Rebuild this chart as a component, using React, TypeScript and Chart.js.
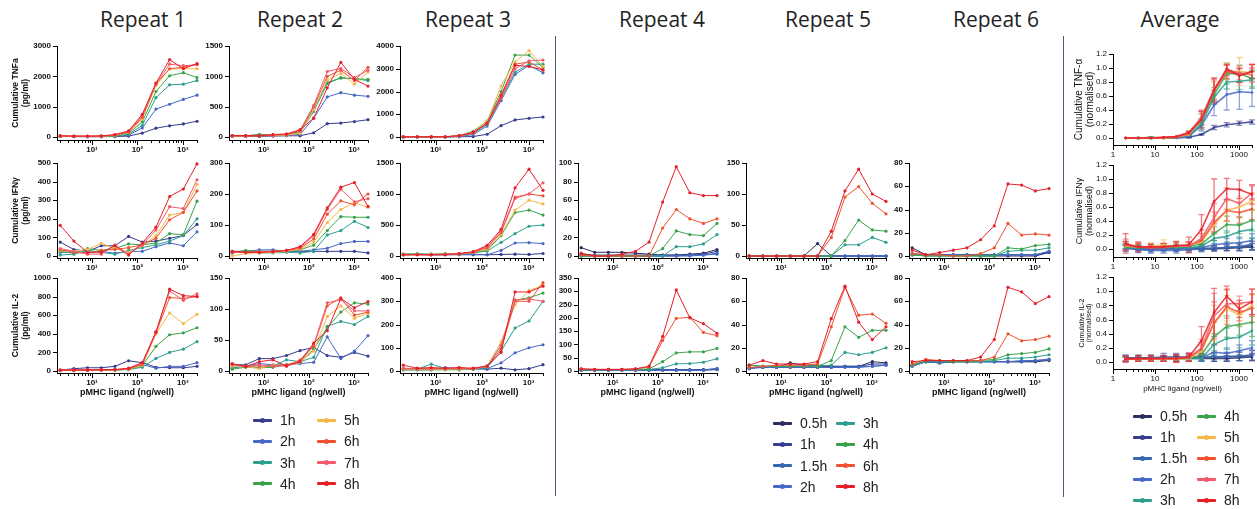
import React, { useEffect, useRef } from 'react';
import { Chart, registerables } from 'chart.js';
Chart.register(...registerables);
Chart.defaults.font.family = "'Liberation Sans', Arial, sans-serif";

// ---------- data ----------
const DOSES = [2, 4, 8, 16, 32, 64, 128, 256, 512, 1024, 2048];
const SERIES_A = ['1h', '2h', '3h', '4h', '5h', '6h', '7h', '8h'];
const SERIES_B = ['0.5h', '1h', '1.5h', '2h', '3h', '4h', '6h', '8h'];
const SERIES_AVG = ['0.5h', '1h', '1.5h', '2h', '3h', '4h', '5h', '6h', '7h', '8h'];

const R1_TNF = [
  [20, 15, 10, 10, 15, 30, 130, 290, 370, 430, 520],
  [20, 15, 10, 15, 20, 60, 300, 920, 1080, 1240, 1380],
  [25, 20, 15, 20, 30, 90, 380, 1300, 1720, 1740, 1860],
  [25, 20, 20, 20, 40, 120, 500, 1500, 2020, 2120, 1960],
  [30, 25, 20, 25, 50, 150, 600, 1700, 2250, 2250, 2250],
  [30, 25, 25, 30, 60, 160, 650, 1750, 2250, 2300, 2400],
  [35, 30, 25, 30, 70, 180, 700, 1750, 2400, 2350, 2380],
  [40, 30, 30, 35, 80, 200, 750, 1780, 2550, 2250, 2420],
];
const R1_IFN = [
  [75, 35, 25, 55, 55, 105, 75, 80, 95, 110, 170],
  [20, 20, 20, 25, 15, 25, 25, 50, 70, 55, 130],
  [5, 10, 30, 20, 10, 30, 45, 60, 80, 110, 200],
  [25, 15, 40, 30, 40, 65, 60, 70, 120, 115, 295],
  [30, 25, 35, 68, 40, 20, 55, 110, 220, 235, 385],
  [35, 20, 15, 30, 35, 45, 60, 95, 195, 235, 350],
  [40, 25, 10, 10, 60, 10, 60, 140, 265, 255, 410],
  [165, 80, 20, 20, 55, 5, 70, 155, 320, 360, 495],
];
const R1_IL2 = [
  [10, 25, 35, 35, 50, 110, 90, 40, 35, 35, 50],
  [5, 10, 10, 10, 15, 20, 70, 30, 50, 50, 90],
  [5, 5, 8, 8, 10, 15, 40, 135, 200, 235, 315],
  [5, 5, 8, 8, 10, 18, 55, 265, 390, 410, 465],
  [8, 8, 10, 10, 12, 20, 60, 400, 625, 510, 610],
  [8, 8, 10, 10, 12, 22, 70, 410, 790, 780, 800],
  [10, 10, 12, 12, 15, 25, 80, 420, 860, 760, 830],
  [10, 10, 12, 15, 15, 30, 90, 420, 880, 810, 800],
];
const R2_TNF = [
  [10, 10, 10, 15, 20, 20, 70, 220, 230, 255, 285],
  [15, 15, 20, 25, 30, 40, 310, 660, 730, 690, 670],
  [20, 20, 30, 30, 35, 70, 420, 880, 980, 960, 930],
  [20, 20, 45, 30, 40, 90, 480, 900, 970, 960, 950],
  [15, 20, 20, 25, 30, 60, 450, 940, 1050, 870, 1070],
  [15, 15, 20, 30, 40, 100, 500, 1000, 1100, 930, 1150],
  [20, 20, 25, 35, 45, 110, 520, 1080, 1130, 980, 1100],
  [25, 25, 20, 40, 50, 120, 310, 810, 1230, 950, 840],
];
const R2_IFN = [
  [15, 15, 15, 15, 15, 15, 15, 15, 15, 15, 10],
  [10, 15, 20, 20, 15, 15, 20, 25, 40, 47, 47],
  [10, 15, 10, 10, 12, 10, 15, 68, 82, 112, 92],
  [12, 18, 15, 15, 15, 20, 35, 82, 127, 125, 125],
  [0, 8, 10, 12, 15, 22, 45, 108, 150, 172, 157],
  [12, 12, 12, 15, 18, 25, 55, 135, 178, 165, 200],
  [14, 12, 14, 15, 18, 28, 65, 150, 215, 175, 185],
  [15, 12, 12, 14, 18, 30, 70, 155, 222, 237, 160],
];
const R2_IL2 = [
  [10, 10, 20, 20, 25, 33, 38, 25, 22, 30, 24],
  [5, 8, 12, 10, 10, 12, 14, 55, 20, 32, 57],
  [5, 8, 5, 8, 18, 15, 22, 72, 80, 75, 88],
  [3, 6, 5, 6, 10, 14, 35, 70, 95, 110, 108],
  [8, 7, 4, 10, 8, 14, 32, 88, 105, 85, 93],
  [10, 8, 8, 8, 10, 16, 40, 105, 118, 90, 95],
  [11, 7, 10, 8, 8, 18, 42, 110, 115, 97, 97],
  [12, 7, 15, 18, 8, 15, 45, 65, 117, 102, 112],
];
const R3_TNF = [
  [0, 0, 0, 0, 10, 20, 120, 500, 750, 820, 880],
  [0, 0, 0, 0, 30, 100, 480, 1600, 2750, 3150, 2820],
  [0, 0, 0, 0, 40, 150, 550, 1700, 2850, 3200, 3200],
  [10, 10, 10, 10, 60, 250, 700, 2000, 3600, 3600, 3050],
  [10, 10, 10, 10, 60, 220, 680, 2250, 3300, 3800, 3100],
  [10, 10, 10, 10, 50, 180, 620, 1850, 3200, 3300, 2950],
  [10, 10, 10, 10, 50, 170, 600, 1700, 3000, 3350, 3380],
  [10, 10, 10, 10, 60, 200, 600, 1800, 3150, 3100, 2950],
];
const R3_IFN = [
  [20, 25, 20, 20, 20, 20, 20, 25, 30, 25, 40],
  [20, 25, 20, 20, 25, 30, 20, 90, 210, 215, 200],
  [30, 30, 25, 25, 30, 50, 80, 220, 360, 480, 500],
  [30, 35, 30, 40, 30, 60, 90, 330, 700, 740, 660],
  [25, 25, 25, 30, 35, 60, 110, 350, 740, 900, 840],
  [20, 20, 20, 25, 35, 60, 130, 380, 930, 1000, 970],
  [20, 20, 20, 25, 35, 65, 150, 400, 950, 1000, 1180],
  [20, 20, 20, 20, 40, 70, 170, 430, 1100, 1400, 1060],
];
const R3_IL2 = [
  [10, 8, 8, 10, 8, 10, 8, 12, 5, 10, 27],
  [5, 5, 5, 15, 10, 8, 10, 35, 78, 100, 113],
  [8, 8, 30, 10, 8, 10, 15, 85, 185, 215, 300],
  [5, 5, 5, 5, 5, 8, 18, 110, 305, 315, 335],
  [8, 8, 8, 8, 8, 10, 20, 125, 285, 345, 370],
  [10, 10, 10, 10, 10, 10, 20, 95, 300, 300, 380],
  [12, 10, 10, 10, 12, 10, 20, 110, 305, 310, 300],
  [25, 12, 15, 12, 15, 12, 22, 80, 340, 340, 365],
];
const R4_IFN = [
  [9, 4, 4, 4, 3, 2, 1, 1, 2, 3, 7],
  [2, 1, 1, 1, 1, 1, 1, 1, 1, 2, 5],
  [1, 0, 0, 0, 0, 0, 0, 0, 1, 1, 3],
  [0, 0, 0, 0, 0, 0, 0, 0, 0, 1, 2],
  [0, 0, 0, 0, 0, 0, 0, 10, 10, 13, 23],
  [0, 0, 0, 0, 0, 0, 8, 27, 23, 22, 35],
  [1, 0, 0, 0, 0, 0, 30, 50, 40, 35, 40],
  [3, 0, 0, 2, 5, 15, 58, 96, 68, 65, 65],
];
const R4_IL2 = [
  [5, 5, 5, 5, 5, 5, 5, 5, 5, 5, 8],
  [4, 4, 4, 4, 4, 4, 4, 4, 4, 4, 6],
  [3, 3, 3, 3, 3, 3, 3, 3, 3, 3, 5],
  [2, 3, 3, 3, 3, 3, 3, 3, 3, 3, 10],
  [5, 5, 5, 5, 5, 6, 12, 27, 28, 33, 46],
  [5, 5, 5, 5, 6, 8, 35, 68, 72, 72, 85],
  [8, 6, 6, 6, 8, 15, 115, 198, 202, 145, 133],
  [8, 6, 6, 6, 8, 18, 130, 305, 200, 178, 142],
];
const R5_IFN = [
  [0, 0, 0, 0, 0, 20, 0, 0, 0, 0, 0],
  [0, 0, 0, 0, 0, 0, 0, 0, 0, 0, 0],
  [0, 0, 0, 0, 0, 0, 0, 0, 0, 0, 0],
  [0, 0, 0, 0, 0, 0, 0, 0, 0, 0, 0],
  [0, 0, 0, 0, 0, 0, 0, 18, 18, 30, 22],
  [0, 0, 0, 0, 0, 0, 0, 25, 58, 42, 40],
  [0, 0, 0, 0, 0, 0, 30, 95, 112, 85, 68],
  [0, 0, 0, 0, 0, 0, 40, 105, 140, 100, 88],
];
const R5_IL2 = [
  [2, 4, 3, 7, 5, 5, 4, 4, 4, 8, 7],
  [3, 3, 3, 4, 4, 4, 4, 4, 4, 6, 6],
  [3, 3, 3, 3, 3, 3, 3, 4, 4, 4, 5],
  [2, 3, 3, 3, 3, 3, 3, 3, 3, 4, 5],
  [5, 4, 4, 4, 4, 4, 5, 16, 14, 16, 20],
  [5, 4, 4, 4, 4, 4, 9, 38, 29, 35, 35],
  [3, 4, 5, 5, 5, 6, 38, 72, 48, 49, 41],
  [5, 9, 6, 6, 6, 8, 45, 73, 42, 27, 38],
];
const R6_IFN = [
  [7, 1, 1, 1, 1, 0, 0, 0, 0, 0, 3],
  [2, 1, 1, 1, 1, 1, 1, 1, 1, 1, 3],
  [1, 1, 1, 1, 1, 1, 1, 1, 1, 1, 4],
  [1, 1, 1, 1, 1, 1, 1, 1, 1, 1, 4],
  [1, 0, 0, 0, 0, 0, 0, 4, 5, 5, 7],
  [1, 0, 0, 0, 0, 0, 0, 7, 6, 9, 10],
  [2, 1, 1, 0, 0, 2, 7, 28, 18, 19, 18],
  [5, 1, 3, 5, 7, 14, 26, 62, 61, 56, 58],
];
const R6_IL2 = [
  [5, 8, 7, 8, 8, 8, 8, 8, 8, 8, 9],
  [5, 8, 7, 8, 8, 8, 8, 8, 8, 8, 10],
  [4, 8, 7, 8, 8, 8, 8, 8, 8, 9, 10],
  [4, 8, 8, 8, 8, 8, 8, 8, 9, 9, 10],
  [5, 8, 8, 8, 8, 8, 9, 11, 11, 12, 14],
  [5, 9, 9, 8, 8, 9, 10, 14, 15, 16, 19],
  [6, 10, 9, 9, 9, 9, 12, 32, 26, 27, 30],
  [8, 9, 9, 9, 9, 12, 27, 72, 68, 58, 64],
];
const AVG_TNF = [
  [0, 0, 0, 0, 0, 0.01, 0.05, 0.15, 0.19, 0.21, 0.23],
  [0, 0, 0, 0, 0, 0.02, 0.18, 0.47, 0.62, 0.66, 0.65],
  [0, 0, 0, 0, 0.01, 0.04, 0.2, 0.58, 0.8, 0.81, 0.83],
  [0, 0, 0.01, 0, 0.01, 0.05, 0.25, 0.62, 0.92, 0.92, 0.85],
  [0, 0, 0, 0, 0.01, 0.05, 0.27, 0.68, 0.95, 0.95, 0.93],
  [0, 0, 0, 0, 0.01, 0.06, 0.28, 0.68, 0.95, 0.9, 0.95],
  [0, 0, 0, 0.01, 0.02, 0.07, 0.3, 0.7, 0.97, 0.93, 0.9],
  [0, 0, 0, 0.01, 0.02, 0.08, 0.26, 0.68, 0.99, 0.89, 0.95],
];
const AVG_TNF_ERR = [
  [0, 0, 0, 0, 0, 0.01, 0.01, 0.03, 0.03, 0.03, 0.03],
  [0, 0, 0, 0, 0, 0.01, 0.08, 0.15, 0.22, 0.25, 0.2],
  [0, 0.01, 0.01, 0, 0, 0.02, 0.08, 0.1, 0.1, 0.12, 0.12],
  [0, 0, 0.01, 0, 0, 0.02, 0.1, 0.1, 0.15, 0.12, 0.12],
  [0, 0, 0, 0, 0, 0.02, 0.08, 0.12, 0.12, 0.2, 0.12],
  [0, 0, 0, 0, 0, 0.02, 0.1, 0.15, 0.1, 0.1, 0.1],
  [0, 0, 0, 0, 0, 0.02, 0.1, 0.15, 0.08, 0.1, 0.1],
  [0, 0, 0, 0, 0, 0.02, 0.12, 0.18, 0.05, 0.1, 0.1],
];
const AVG_IFN = [
  [0.06, 0.02, 0.01, 0.01, 0.01, 0.01, 0.0, 0.0, 0.01, 0.02, 0.03],
  [0.03, 0.01, 0.0, 0.01, 0.0, 0.01, 0.01, 0.01, 0.02, 0.03, 0.05],
  [0.01, -0.01, -0.02, -0.02, -0.02, -0.01, 0.0, 0.01, 0.02, 0.03, 0.07],
  [0.01, 0.0, -0.01, 0.0, 0.0, 0.01, 0.02, 0.06, 0.08, 0.09, 0.12],
  [0.02, 0.02, 0.02, 0.02, 0.02, 0.02, 0.04, 0.15, 0.18, 0.25, 0.28],
  [0.03, 0.02, 0.03, 0.03, 0.03, 0.04, 0.07, 0.22, 0.35, 0.34, 0.41],
  [0.04, 0.03, 0.04, 0.06, 0.04, 0.05, 0.1, 0.35, 0.55, 0.6, 0.68],
  [0.05, 0.03, 0.02, 0.03, 0.04, 0.05, 0.12, 0.38, 0.55, 0.52, 0.57],
  [0.06, 0.03, 0.02, 0.02, 0.05, 0.04, 0.15, 0.45, 0.72, 0.65, 0.8],
  [0.08, 0.03, 0.03, 0.03, 0.05, 0.06, 0.28, 0.68, 0.86, 0.85, 0.78],
];
const AVG_IFN_ERR = [
  [0.05, 0.03, 0.03, 0.03, 0.03, 0.03, 0.03, 0.03, 0.03, 0.04, 0.05],
  [0.04, 0.03, 0.03, 0.03, 0.03, 0.03, 0.03, 0.03, 0.04, 0.05, 0.06],
  [0.04, 0.04, 0.04, 0.04, 0.04, 0.04, 0.04, 0.04, 0.05, 0.06, 0.08],
  [0.04, 0.04, 0.04, 0.04, 0.04, 0.04, 0.04, 0.06, 0.07, 0.08, 0.1],
  [0.04, 0.04, 0.04, 0.04, 0.04, 0.04, 0.04, 0.07, 0.08, 0.1, 0.12],
  [0.05, 0.04, 0.04, 0.04, 0.04, 0.05, 0.05, 0.1, 0.12, 0.12, 0.15],
  [0.05, 0.05, 0.05, 0.07, 0.05, 0.05, 0.08, 0.12, 0.15, 0.15, 0.12],
  [0.06, 0.05, 0.04, 0.05, 0.05, 0.05, 0.1, 0.15, 0.15, 0.15, 0.15],
  [0.08, 0.05, 0.04, 0.04, 0.05, 0.06, 0.12, 0.2, 0.15, 0.2, 0.1],
  [0.14, 0.07, 0.04, 0.05, 0.06, 0.11, 0.21, 0.32, 0.15, 0.13, 0.14],
];
const AVG_IL2 = [
  [0.05, 0.05, 0.05, 0.05, 0.05, 0.05, 0.05, 0.05, 0.05, 0.06, 0.07],
  [0.06, 0.06, 0.06, 0.07, 0.07, 0.07, 0.07, 0.07, 0.07, 0.08, 0.09],
  [0.05, 0.05, 0.05, 0.05, 0.05, 0.06, 0.06, 0.07, 0.08, 0.08, 0.1],
  [0.04, 0.05, 0.05, 0.05, 0.05, 0.06, 0.06, 0.14, 0.12, 0.16, 0.2],
  [0.04, 0.04, 0.05, 0.04, 0.05, 0.05, 0.05, 0.25, 0.33, 0.35, 0.44],
  [0.04, 0.04, 0.04, 0.04, 0.04, 0.05, 0.1, 0.36, 0.5, 0.53, 0.56],
  [0.04, 0.04, 0.04, 0.04, 0.04, 0.05, 0.15, 0.55, 0.76, 0.66, 0.8],
  [0.04, 0.04, 0.04, 0.05, 0.05, 0.06, 0.18, 0.55, 0.78, 0.7, 0.76],
  [0.05, 0.05, 0.05, 0.05, 0.05, 0.06, 0.2, 0.65, 0.82, 0.83, 0.85],
  [0.04, 0.05, 0.05, 0.05, 0.05, 0.07, 0.3, 0.7, 0.93, 0.75, 0.85],
];
const AVG_IL2_ERR = [
  [0.04, 0.04, 0.04, 0.04, 0.04, 0.04, 0.04, 0.04, 0.04, 0.04, 0.05],
  [0.04, 0.04, 0.04, 0.05, 0.05, 0.05, 0.05, 0.06, 0.06, 0.06, 0.07],
  [0.04, 0.04, 0.04, 0.04, 0.05, 0.05, 0.05, 0.06, 0.06, 0.06, 0.07],
  [0.04, 0.04, 0.04, 0.04, 0.05, 0.05, 0.05, 0.1, 0.08, 0.08, 0.1],
  [0.03, 0.03, 0.03, 0.03, 0.04, 0.04, 0.04, 0.15, 0.15, 0.15, 0.2],
  [0.03, 0.03, 0.03, 0.03, 0.04, 0.04, 0.06, 0.2, 0.15, 0.15, 0.2],
  [0.03, 0.03, 0.03, 0.03, 0.04, 0.04, 0.08, 0.25, 0.18, 0.15, 0.15],
  [0.03, 0.03, 0.03, 0.04, 0.04, 0.05, 0.1, 0.3, 0.25, 0.12, 0.2],
  [0.04, 0.04, 0.04, 0.04, 0.05, 0.05, 0.12, 0.32, 0.2, 0.1, 0.18],
  [0.04, 0.04, 0.04, 0.04, 0.05, 0.06, 0.2, 0.34, 0.14, 0.12, 0.18],
];

const TITLES = ['Repeat 1', 'Repeat 2', 'Repeat 3', 'Repeat 4', 'Repeat 5', 'Repeat 6', 'Average'];
const X_TITLE = 'pMHC ligand (ng/well)';

// ---------- styles ----------
const COLORS: Record<string, string> = {
  '0.5h': '#2c2e5e', '1h': '#363c8e', '1.5h': '#3468b0', '2h': '#4768c6', '3h': '#2c9f8f',
  '4h': '#3aa34a', '5h': '#f7b64b', '6h': '#ef522e', '7h': '#f25a6c', '8h': '#e5202a',
};
const SUP: Record<number, string> = { 10: '10\u00b9', 100: '10\u00b2', 1000: '10\u00b3' };

const REP_ROWS = {
  tnf: { yT: 46, yZ: 137, yA: 140 },
  ifn: { yT: 163, yZ: 256, yA: 258 },
  il2: { yT: 278, yZ: 371, yA: 373 },
};
const AVG_ROWS = {
  tnf: { yT: 54, yZ: 138, yA: 145 },
  ifn: { yT: 165, yZ: 249, yA: 257 },
  il2: { yT: 277, yZ: 362, yA: 369 },
};
const COLS = [
  { x0: 57, x1: 197, yw: 57, cx: 143 },
  { x0: 229, x1: 368, yw: 30, cx: 300 },
  { x0: 400, x1: 543, yw: 30, cx: 468 },
  { x0: 578, x1: 717, yw: 25, cx: 662 },
  { x0: 746, x1: 886, yw: 25, cx: 828 },
  { x0: 909, x1: 1049, yw: 25, cx: 996 },
  { x0: 1113, x1: 1252, yw: 50, cx: 1180 },
];

type PanelCfg = {
  col: number; row: { yT: number; yZ: number; yA: number };
  data: number[][]; series: string[]; yMax: number; yStep: number;
  errors?: number[][]; yTitle?: string[]; yTitleSize?: number; yTitlePad?: number; xTitle?: boolean; avg?: boolean;
};

const PANELS: PanelCfg[] = [
  { col: 0, row: REP_ROWS.tnf, data: R1_TNF, series: SERIES_A, yMax: 3000, yStep: 1000, yTitle: ['Cumulative TNFa', '(pg/ml)'] },
  { col: 0, row: REP_ROWS.ifn, data: R1_IFN, series: SERIES_A, yMax: 500, yStep: 100, yTitle: ['Cumulative IFN\u03b3', '(pg/ml)'] },
  { col: 0, row: REP_ROWS.il2, data: R1_IL2, series: SERIES_A, yMax: 1000, yStep: 200, yTitle: ['Cumulative IL-2', '(pg/ml)'], xTitle: true },
  { col: 1, row: REP_ROWS.tnf, data: R2_TNF, series: SERIES_A, yMax: 1500, yStep: 500 },
  { col: 1, row: REP_ROWS.ifn, data: R2_IFN, series: SERIES_A, yMax: 300, yStep: 100 },
  { col: 1, row: REP_ROWS.il2, data: R2_IL2, series: SERIES_A, yMax: 150, yStep: 50, xTitle: true },
  { col: 2, row: REP_ROWS.tnf, data: R3_TNF, series: SERIES_A, yMax: 4000, yStep: 1000 },
  { col: 2, row: REP_ROWS.ifn, data: R3_IFN, series: SERIES_A, yMax: 1500, yStep: 500 },
  { col: 2, row: REP_ROWS.il2, data: R3_IL2, series: SERIES_A, yMax: 400, yStep: 100, xTitle: true },
  { col: 3, row: REP_ROWS.ifn, data: R4_IFN, series: SERIES_B, yMax: 100, yStep: 20 },
  { col: 3, row: REP_ROWS.il2, data: R4_IL2, series: SERIES_B, yMax: 350, yStep: 50, xTitle: true },
  { col: 4, row: REP_ROWS.ifn, data: R5_IFN, series: SERIES_B, yMax: 150, yStep: 50 },
  { col: 4, row: REP_ROWS.il2, data: R5_IL2, series: SERIES_B, yMax: 80, yStep: 20, xTitle: true },
  { col: 5, row: REP_ROWS.ifn, data: R6_IFN, series: SERIES_B, yMax: 80, yStep: 20 },
  { col: 5, row: REP_ROWS.il2, data: R6_IL2, series: SERIES_B, yMax: 80, yStep: 20, xTitle: true },
  { col: 6, row: AVG_ROWS.tnf, data: AVG_TNF, errors: AVG_TNF_ERR, series: SERIES_A, yMax: 1.2, yStep: 0.2, avg: true, yTitle: ['Cumulative TNF-\u03b1', '(normalised)'], yTitleSize: 10, yTitlePad: 11 },
  { col: 6, row: AVG_ROWS.ifn, data: AVG_IFN, errors: AVG_IFN_ERR, series: SERIES_AVG, yMax: 1.2, yStep: 0.2, avg: true, yTitle: ['Cumulative IFN\u03b3', '(normalised)'], yTitleSize: 9, yTitlePad: 12 },
  { col: 6, row: AVG_ROWS.il2, data: AVG_IL2, errors: AVG_IL2_ERR, series: SERIES_AVG, yMax: 1.2, yStep: 0.2, avg: true, yTitle: ['Cumulative IL-2', '(normalised)'], yTitleSize: 7, yTitlePad: 15, xTitle: true },
];

const LEGENDS = [
  { cols: [['1h', '2h', '3h', '4h'], ['5h', '6h', '7h', '8h']], lx: [253, 317], y0: 420, dy: 21.3 },
  { cols: [['0.5h', '1h', '1.5h', '2h'], ['3h', '4h', '6h', '8h']], lx: [773, 836], y0: 423, dy: 21.3 },
  { cols: [['0.5h', '1h', '1.5h', '2h', '3h'], ['4h', '5h', '6h', '7h', '8h']], lx: [1133, 1197], y0: 416, dy: 21 },
];

const PT = 8;
const PR = 8;

function alpha(hex: string, a: number) {
  const n = parseInt(hex.slice(1), 16);
  return `rgba(${(n >> 16) & 255},${(n >> 8) & 255},${n & 255},${a})`;
}

const axisTicks = {
  id: 'axisTicks',
  afterDraw(chart: any) {
    const { ctx, chartArea } = chart;
    const xs = chart.scales.x;
    const ys = chart.scales.y;
    ctx.save();
    ctx.strokeStyle = '#000';
    ctx.lineWidth = 1;
    ctx.beginPath();
    const lo = Math.floor(Math.log10(xs.min));
    const hi = Math.ceil(Math.log10(xs.max));
    for (let e = lo; e <= hi; e++) {
      for (let m = 1; m <= 9; m++) {
        const v = m * Math.pow(10, e);
        if (v < xs.min - 1e-9 || v > xs.max + 1e-9) continue;
        const px = Math.round(xs.getPixelForValue(v)) + 0.5;
        const len = m === 1 ? 5 : 3;
        ctx.moveTo(px, chartArea.bottom);
        ctx.lineTo(px, chartArea.bottom + len);
      }
    }
    ys.ticks.forEach((t: any) => {
      const py = Math.round(ys.getPixelForValue(t.value)) + 0.5;
      ctx.moveTo(chartArea.left - 4, py);
      ctx.lineTo(chartArea.left, py);
    });
    ctx.stroke();
    ctx.restore();
  },
};

const errorBars = {
  id: 'errorBars',
  beforeDatasetsDraw(chart: any) {
    const { ctx } = chart;
    const ys = chart.scales.y;
    ctx.save();
    chart.data.datasets.forEach((ds: any, i: number) => {
      if (!ds.errors) return;
      const meta = chart.getDatasetMeta(i);
      ctx.strokeStyle = ds.errColor;
      ctx.lineWidth = 1.3;
      ctx.beginPath();
      meta.data.forEach((pt: any, j: number) => {
        const e = ds.errors[j];
        if (!e) return;
        const v = ds.data[j].y;
        const yTop = ys.getPixelForValue(v + e);
        const yBot = ys.getPixelForValue(v - e);
        ctx.moveTo(pt.x, yTop); ctx.lineTo(pt.x, yBot);
        ctx.moveTo(pt.x - 3, yTop); ctx.lineTo(pt.x + 3, yTop);
        ctx.moveTo(pt.x - 3, yBot); ctx.lineTo(pt.x + 3, yBot);
      });
      ctx.stroke();
    });
    ctx.restore();
  },
};

function Panel({ cfg }: { cfg: PanelCfg }) {
  const ref = useRef<HTMLCanvasElement>(null);
  const col = COLS[cfg.col];
  const { yT, yZ, yA } = cfg.row;
  const xh = cfg.xTitle ? 26 : 16;
  const w = col.x1 - col.x0 + col.yw + PR;
  const h = yA - yT + PT + xh;

  useEffect(() => {
    const yMin = -((yA - yZ) / (yZ - yT)) * cfg.yMax;
    const tickVals: number[] = [];
    for (let k = 0; k * cfg.yStep <= cfg.yMax + 1e-9; k++) tickVals.push(+(k * cfg.yStep).toFixed(4));
    const n = cfg.data.length;
    const tickFont = cfg.avg
      ? { size: 8, weight: 'normal' as const }
      : { size: 8, weight: 'bold' as const };
    const chart = new Chart(ref.current!, {
      type: 'line',
      data: {
        datasets: cfg.data.map((row, i) => {
          const c = COLORS[cfg.series[i]];
          return {
            label: cfg.series[i],
            data: row.map((v, j) => ({ x: DOSES[j], y: v })),
            borderColor: cfg.avg ? alpha(c, 0.85) : c,
            backgroundColor: c,
            borderWidth: cfg.avg ? 1.6 : 1,
            pointRadius: cfg.avg ? 1.3 : 1.6,
            pointBorderWidth: 0,
            tension: 0,
            clip: false as any,
            order: n - 1 - i,
            errors: cfg.errors ? cfg.errors[i] : undefined,
            errColor: alpha(c, 0.6),
          } as any;
        }),
      },
      options: {
        responsive: false,
        animation: false,
        devicePixelRatio: 1,
        layout: { padding: { top: PT, right: PR, left: 0, bottom: 0 } },
        plugins: { legend: { display: false }, tooltip: { enabled: false } },
        scales: {
          x: {
            type: 'logarithmic',
            min: cfg.avg ? 1 : 1.7,
            max: 2048,
            afterFit: (s: any) => { s.height = xh; },
            grid: { display: true, drawOnChartArea: false, drawTicks: true, tickLength: 4, tickColor: 'rgba(0,0,0,0)', color: 'rgba(0,0,0,0)' },
            border: { display: true, color: '#000', width: 1 },
            ticks: {
              autoSkip: false, maxRotation: 0, padding: 1, color: '#111', font: tickFont,
              callback: (v: any) => {
                const x = Number(v);
                if (cfg.avg) return [1, 10, 100, 1000].includes(x) ? String(x) : '';
                return SUP[x] || '';
              },
            },
            title: cfg.xTitle
              ? { display: true, text: X_TITLE, color: '#111', padding: { top: 0, bottom: 1 }, font: cfg.avg ? { size: 8, weight: 'normal' } : { size: 9, weight: 'bold' } }
              : { display: false },
          },
          y: {
            type: 'linear',
            min: yMin,
            max: cfg.yMax,
            afterFit: (s: any) => { s.width = col.yw; },
            afterBuildTicks: (s: any) => { s.ticks = tickVals.map((v) => ({ value: v })); },
            grid: { display: true, drawOnChartArea: false, drawTicks: true, tickLength: 4, tickColor: 'rgba(0,0,0,0)', color: 'rgba(0,0,0,0)' },
            border: { display: true, color: '#000', width: 1 },
            ticks: {
              padding: 2, color: '#111', font: tickFont,
              callback: (v: any) => (cfg.avg ? Number(v).toFixed(1) : String(Math.round(Number(v)))),
            },
            title: cfg.yTitle
              ? {
                  display: true, text: cfg.yTitle, color: '#111',
                  padding: { top: cfg.yTitlePad ?? 10, bottom: 0 },
                  font: cfg.avg ? { size: cfg.yTitleSize ?? 9, weight: 'normal', lineHeight: 1.05 } : { size: 8.5, weight: 'bold', lineHeight: 1.25 },
                }
              : { display: false },
          },
        },
      } as any,
      plugins: [axisTicks, errorBars],
    });
    return () => chart.destroy();
  }, []);

  return (
    <canvas
      ref={ref}
      width={w}
      height={h}
      style={{ position: 'absolute', left: col.x0 - col.yw, top: yT - PT, width: w, height: h }}
    />
  );
}

function Legend({ cfg }: { cfg: typeof LEGENDS[number] }) {
  const items: any[] = [];
  cfg.cols.forEach((labels, ci) => {
    labels.forEach((lab, ri) => {
      const x = cfg.lx[ci];
      const y = cfg.y0 + ri * cfg.dy;
      const c = COLORS[lab];
      items.push(
        <div key={lab + ci + 'l'} style={{ position: 'absolute', left: x, top: y - 1.5, width: 19, height: 3, background: c, borderRadius: 1 }} />,
        <div key={lab + ci + 'd'} style={{ position: 'absolute', left: x + 7, top: y - 2.5, width: 5, height: 5, background: c, borderRadius: 3 }} />,
        <div key={lab + ci + 't'} style={{ position: 'absolute', left: x + 27, top: y - 9, fontSize: 14, lineHeight: '18px', color: '#222', fontFamily: "'Liberation Sans', Arial, sans-serif" }}>{lab}</div>
      );
    });
  });
  return <>{items}</>;
}

export default function App() {
  return (
    <div style={{ position: 'absolute', left: 0, top: 0, width: 1257, height: 509, background: '#fff', overflow: 'hidden' }}>
      {TITLES.map((t, i) => (
        <div key={t} style={{ position: 'absolute', left: COLS[i].cx - 70, top: 4, width: 140, textAlign: 'center', fontSize: 21, lineHeight: '30px', color: '#222', fontFamily: "'Open Sans', sans-serif" }}>{t}</div>
      ))}
      <div style={{ position: 'absolute', left: 555, top: 36, width: 1.3, height: 460, background: '#55597a' }} />
      <div style={{ position: 'absolute', left: 1063, top: 36, width: 1.3, height: 461, background: '#55597a' }} />
      {PANELS.map((p, i) => (
        <Panel key={i} cfg={p} />
      ))}
      {LEGENDS.map((l, i) => (
        <Legend key={i} cfg={l} />
      ))}
    </div>
  );
}
